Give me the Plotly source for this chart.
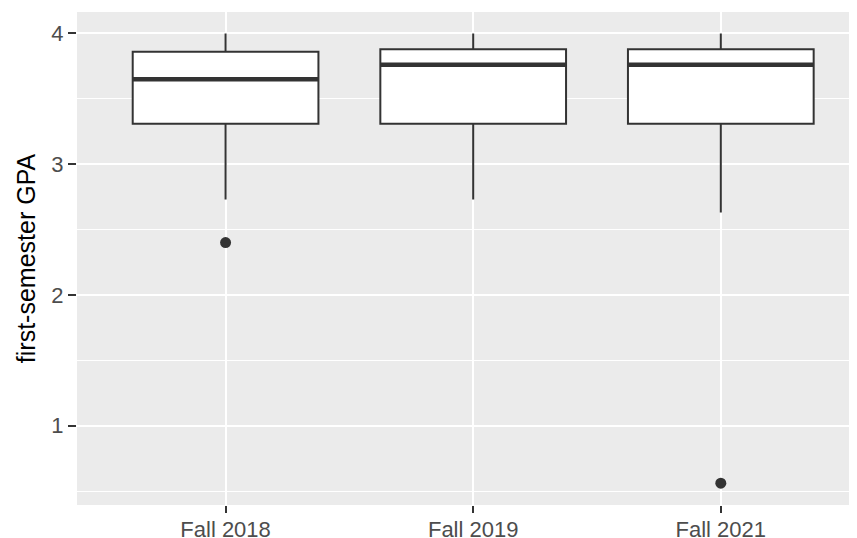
import plotly.graph_objects as go

# Data
terms = ["Fall 2018", "Fall 2019", "Fall 2021"]
lower_whisker = [2.73, 2.73, 2.63]
q1_vals = [3.31, 3.31, 3.31]
medians = [3.65, 3.76, 3.76]
q3_vals = [3.86, 3.88, 3.88]
upper_whisker = [4.0, 4.0, 4.0]
outlier_terms = ["Fall 2018", "Fall 2021"]
outlier_vals = [2.40, 0.56]

BOX_W = 0.75
DARK = "#333333"

fig = go.Figure()
for i, t in enumerate(terms):
    fig.add_trace(go.Box(
        x=[t], q1=[q1_vals[i]], median=[medians[i]], q3=[q3_vals[i]],
        lowerfence=[lower_whisker[i]], upperfence=[upper_whisker[i]],
        boxpoints=False, width=BOX_W, fillcolor="white",
        line=dict(color=DARK, width=2), whiskerwidth=0,
        showlegend=False, hoverinfo="skip",
    ))
    # thicker median line as in ggplot
    fig.add_shape(type="line", xref="x", yref="y",
                  x0=i - BOX_W / 2, x1=i + BOX_W / 2,
                  y0=medians[i], y1=medians[i],
                  line=dict(color=DARK, width=4.5), layer="above")

fig.add_trace(go.Scatter(
    x=outlier_terms, y=outlier_vals, mode="markers",
    marker=dict(color=DARK, size=11), showlegend=False, hoverinfo="skip",
))

# page body has an 8px margin, so the figure is sized/offset to compensate
fig.update_layout(
    width=849, height=530,
    margin=dict(l=69, r=0, t=4, b=33, autoexpand=False),
    paper_bgcolor="white", plot_bgcolor="#EBEBEB",
    font=dict(family="Liberation Sans, Arial, sans-serif", color="#4D4D4D"),
)
fig.update_xaxes(
    type="category", categoryorder="array", categoryarray=terms,
    range=[-0.6, 2.55], showgrid=True, gridcolor="white", gridwidth=1.8,
    zeroline=False, showline=False, automargin=False,
    ticks="outside", ticklen=7, tickwidth=2.2, tickcolor=DARK,
    tickfont=dict(size=22, color="#4D4D4D"), ticklabelstandoff=-2,
)
fig.update_yaxes(
    range=[0.393, 4.164], tickvals=[1, 2, 3, 4], showgrid=True,
    gridcolor="white", gridwidth=1.8, zeroline=False, showline=False,
    automargin=False,
    ticks="outside", ticklen=8, tickwidth=2.2, tickcolor=DARK,
    tickfont=dict(size=22, color="#4D4D4D"),
    minor=dict(tickvals=[0.5, 1.5, 2.5, 3.5], showgrid=True,
               gridcolor="white", gridwidth=0.9, ticks=""),
    title=dict(text="first-semester GPA", font=dict(size=25, color="black"), standoff=8),
)

fig.write_html("out.html")
